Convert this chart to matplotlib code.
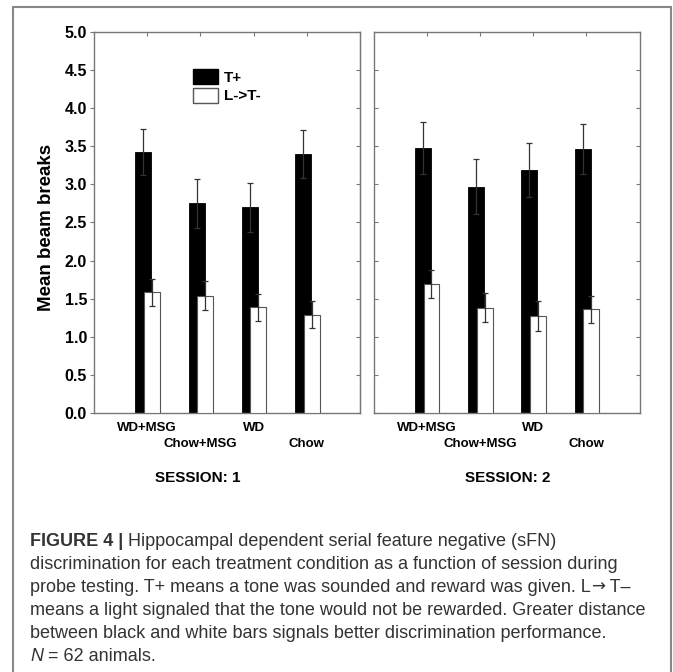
import matplotlib
matplotlib.use("Agg")
import matplotlib.pyplot as plt
from matplotlib.patches import Patch, Rectangle
import numpy as np

groups = ["WD+MSG", "Chow+MSG", "WD", "Chow"]
sessions = ["SESSION: 1", "SESSION: 2"]
legend_labels = ["T+", "L->T-"]

# session 1 (mean, sem)
s1_tplus = [3.43, 2.75, 2.70, 3.40]
s1_tplus_err = [0.30, 0.32, 0.32, 0.31]
s1_lt = [1.58, 1.54, 1.385, 1.29]
s1_lt_err = [0.18, 0.19, 0.18, 0.18]

# session 2
s2_tplus = [3.48, 2.97, 3.19, 3.47]
s2_tplus_err = [0.34, 0.36, 0.35, 0.33]
s2_lt = [1.69, 1.38, 1.27, 1.36]
s2_lt_err = [0.18, 0.19, 0.20, 0.18]

yticks = [0.0, 0.5, 1.0, 1.5, 2.0, 2.5, 3.0, 3.5, 4.0, 4.5, 5.0]

caption_lines = [
    [("FIGURE 4 |", "bold"), (" Hippocampal dependent serial feature negative (sFN)", "normal")],
    [("discrimination for each treatment condition as a function of session during", "normal")],
    [("probe testing. T+ means a tone was sounded and reward was given. L", "normal"),
     ("\u2192", "symbol"), (" T\u2013", "normal")],
    [("means a light signaled that the tone would not be rewarded. Greater distance", "normal")],
    [("between black and white bars signals better discrimination performance.", "normal")],
    [("N", "italic"), (" = 62 animals.", "normal")],
]

FONT = ["Liberation Sans", "DejaVu Sans"]
plt.rcParams["font.family"] = FONT

W, H = 673, 672
fig = plt.figure(figsize=(W / 100, H / 100), dpi=100)


def px_rect(x0, y0, x1, y1):
    return [x0 / W, 1 - y1 / H, (x1 - x0) / W, (y1 - y0) / H]


SPINE = "#777777"


def draw_panel(ax, tplus, tplus_err, lt, lt_err):
    x = np.arange(1, len(groups) + 1)
    ax.bar(x - 0.07, tplus, width=0.3, color="black", edgecolor="black",
           linewidth=0.6, zorder=2)
    ax.errorbar(x - 0.07, tplus, yerr=tplus_err, fmt="none", ecolor="#333333",
                elinewidth=0.9, capsize=2, capthick=0.9, zorder=2.5)
    ax.bar(x + 0.09, lt, width=0.3, color="white", edgecolor="#555555",
           linewidth=0.8, zorder=3)
    ax.errorbar(x + 0.09, lt, yerr=lt_err, fmt="none", ecolor="#333333",
                elinewidth=0.9, capsize=2, capthick=0.9, zorder=4)
    ax.set_xlim(0, 5)
    ax.set_ylim(0, 5)
    ax.set_xticks(x)
    ax.set_xticklabels(groups, fontsize=9.5, fontweight="bold")
    ax.tick_params(axis="x", direction="in", top=True, length=3, color=SPINE, pad=7)
    # staggered labels: every second one on a lower row
    for tk in ax.xaxis.get_major_ticks()[1::2]:
        tk.set_pad(18)
    ax.set_yticks(yticks)
    for s in ax.spines.values():
        s.set_color(SPINE)
        s.set_linewidth(1)


ax1 = fig.add_axes(px_rect(94, 32.3, 360, 412.7))
ax2 = fig.add_axes(px_rect(373.5, 32.3, 639.5, 412.7))

draw_panel(ax1, s1_tplus, s1_tplus_err, s1_lt, s1_lt_err)
draw_panel(ax2, s2_tplus, s2_tplus_err, s2_lt, s2_lt_err)

# left panel: labels + outward ticks on the left, inward ticks on the right
ax1.set_yticklabels([f"{v:.1f}" for v in yticks], fontsize=11.5, fontweight="bold")
ax1.tick_params(axis="y", direction="out", length=3, color=SPINE, pad=2)
sec = ax1.secondary_yaxis("right")
sec.set_yticks(yticks)
sec.tick_params(direction="in", length=3, color=SPINE, labelright=False)
sec.spines["right"].set_color(SPINE)

ax2.tick_params(axis="y", direction="in", left=True, right=True,
                labelleft=False, length=3, color=SPINE)

handles = [Patch(facecolor="black", edgecolor="black"),
           Patch(facecolor="white", edgecolor="#555555")]
ax1.legend(handles, legend_labels, loc="upper left", bbox_to_anchor=(0.372, 0.903),
           frameon=False, prop=dict(weight="bold", size=11), handlelength=1.63,
           handleheight=1.12, labelspacing=0.2, handletextpad=0.4,
           borderpad=0, borderaxespad=0)

fig.text(47 / W, 1 - 227 / H, "Mean beam breaks", rotation=90, ha="center",
         va="center", fontsize=13.5, fontweight="bold")
fig.text(198 / W, 1 - 478 / H, sessions[0], ha="center", va="center",
         fontsize=11, fontweight="bold")
fig.text(508 / W, 1 - 478 / H, sessions[1], ha="center", va="center",
         fontsize=11, fontweight="bold")

# caption, drawn run by run so bold / italic parts sit inline
renderer = fig.canvas.get_renderer()
for i, line in enumerate(caption_lines):
    xpos = 30 / W
    ypos = 1 - (546 + 23 * i) / H
    for txt, style in line:
        kw = dict(fontsize=13, color="#333333", va="baseline", ha="left")
        if style == "bold":
            kw["fontweight"] = "bold"
        elif style == "italic":
            kw["fontstyle"] = "italic"
        elif style == "symbol":
            kw["family"] = ["DejaVu Sans"]
            kw["fontsize"] = 12
        t = fig.text(xpos, ypos, txt, **kw)
        bb = t.get_window_extent(renderer)
        xpos = bb.x1 / W

# outer frame
fig.add_artist(Rectangle((13 / W, -0.05), (671 - 13) / W, 1.05 - 6.5 / H,
                         transform=fig.transFigure, fill=False,
                         edgecolor="#888888", linewidth=1.5, clip_on=False))

fig.savefig("out.png", dpi=100)
